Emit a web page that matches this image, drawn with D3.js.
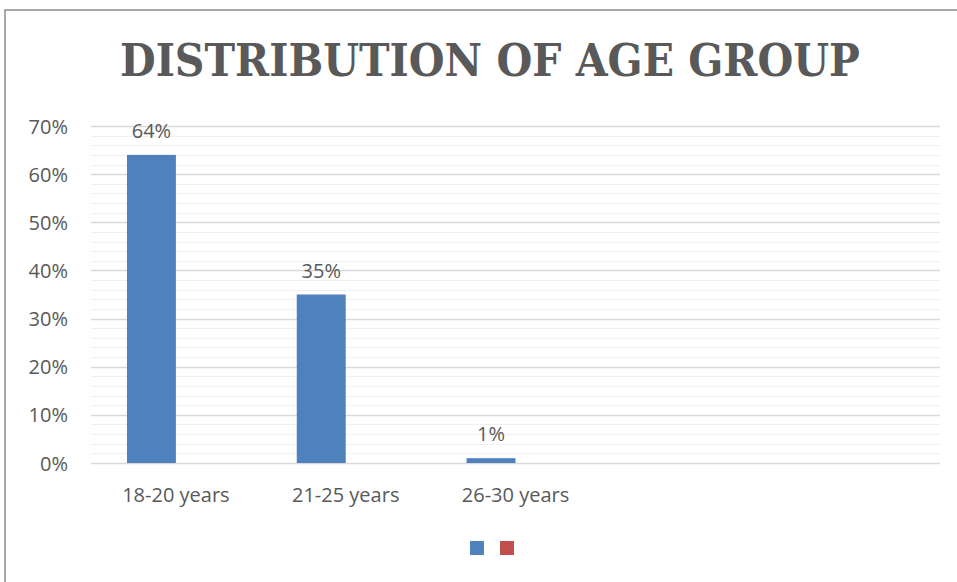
<!DOCTYPE html>
<html><head><meta charset="utf-8">
<script src="https://cdn.jsdelivr.net/npm/d3@7"></script>
<style>body{margin:0;background:#fff}svg{display:block}</style>
</head><body>
<script>
const title = "DISTRIBUTION OF AGE GROUP";
const categories = ["18-20 years", "21-25 years", "26-30 years", "", ""];
const seriesNames = ["Series1", "Series2"];
const series1 = [0.64, 0.35, 0.01, null, null];
const series2 = [null, null, null, null, null];
const yTicks = [0, 0.1, 0.2, 0.3, 0.4, 0.5, 0.6, 0.7];
const colors = ["#4F81BD", "#C0504D"];

const W = 957, H = 582;
const svg = d3.select("body").append("svg").attr("width", W).attr("height", H);
const font = "'Open Sans', sans-serif";
const txt = "#595959";

// frame
svg.append("path").attr("d", `M5,${H} L5,10 L${W},10`).attr("fill","none").attr("stroke","#8c8c8c").attr("stroke-width",1.5);

svg.append("text").attr("x", 490).attr("y", 76).attr("text-anchor","middle")
  .attr("font-family","'DejaVu Serif', serif").attr("font-weight","bold").attr("font-stretch","condensed")
  .attr("font-size", 45).attr("fill", txt)
  .attr("textLength", 740).attr("lengthAdjust","spacingAndGlyphs").text(title);

const x0 = d3.scaleBand().domain(d3.range(categories.length)).range([91, 940]).paddingInner(0).paddingOuter(0);
const x1 = d3.scaleBand().domain(seriesNames).range([0, x0.bandwidth()]).paddingInner(0).paddingOuter(0.735);
const y = d3.scaleLinear().domain([0, 0.7]).range([463, 126]);

// minor grid
const minor = d3.range(0, 0.7001, 0.02).filter(v => Math.round(v*100) % 10 !== 0);
svg.append("g").selectAll("line").data(minor).join("line")
  .attr("x1", 91).attr("x2", 940).attr("y1", d => Math.round(y(d))+0.5).attr("y2", d => Math.round(y(d))+0.5)
  .attr("stroke", "#f0f0f0").attr("stroke-width", 1);
// major grid
svg.append("g").selectAll("line").data(yTicks).join("line")
  .attr("x1", 91).attr("x2", 940).attr("y1", d => Math.round(y(d))+0.5).attr("y2", d => Math.round(y(d))+0.5)
  .attr("stroke", "#d9d9d9").attr("stroke-width", 1.3);

// y axis labels
const yAxis = d3.axisLeft(y).tickValues(yTicks).tickFormat(d3.format(".0%")).tickSize(0).tickPadding(0);
const ga = svg.append("g").attr("transform","translate(68,0)").call(yAxis);
ga.select(".domain").remove();
ga.selectAll("text").attr("font-family", font).attr("font-size", 20).attr("fill", txt).attr("dy","0.35em");

// x labels
const xAxis = d3.axisBottom(x0).tickFormat(i => categories[i]).tickSize(0).tickPadding(0);
const gx = svg.append("g").attr("transform","translate(0,502)").call(xAxis);
gx.select(".domain").remove();
gx.selectAll("text").attr("font-family", font).attr("font-size", 20).attr("fill", txt).attr("dy","0");

// bars
const allSeries = [series1, series2];
allSeries.forEach((s, si) => {
  const data = s.map((v,i)=>({i,v})).filter(d => d.v != null);
  svg.append("g").selectAll("rect").data(data).join("rect")
    .attr("x", d => x0(d.i) + x1(seriesNames[si]))
    .attr("width", x1.bandwidth())
    .attr("y", d => y(d.v)).attr("height", d => y(0) - y(d.v))
    .attr("fill", colors[si]);
  svg.append("g").selectAll("text").data(data).join("text")
    .attr("x", d => x0(d.i) + x1(seriesNames[si]) + x1.bandwidth()/2)
    .attr("y", d => y(d.v) - 17)
    .attr("text-anchor","middle").attr("font-family", font).attr("font-size", 20).attr("fill", txt)
    .text(d => d3.format(".0%")(d.v));
});

// legend
const lg = svg.append("g");
seriesNames.forEach((n, i) => {
  lg.append("rect").attr("x", 470 + i*30).attr("y", 541).attr("width", 14).attr("height", 14).attr("fill", colors[i]);
});
</script>
</body></html>
